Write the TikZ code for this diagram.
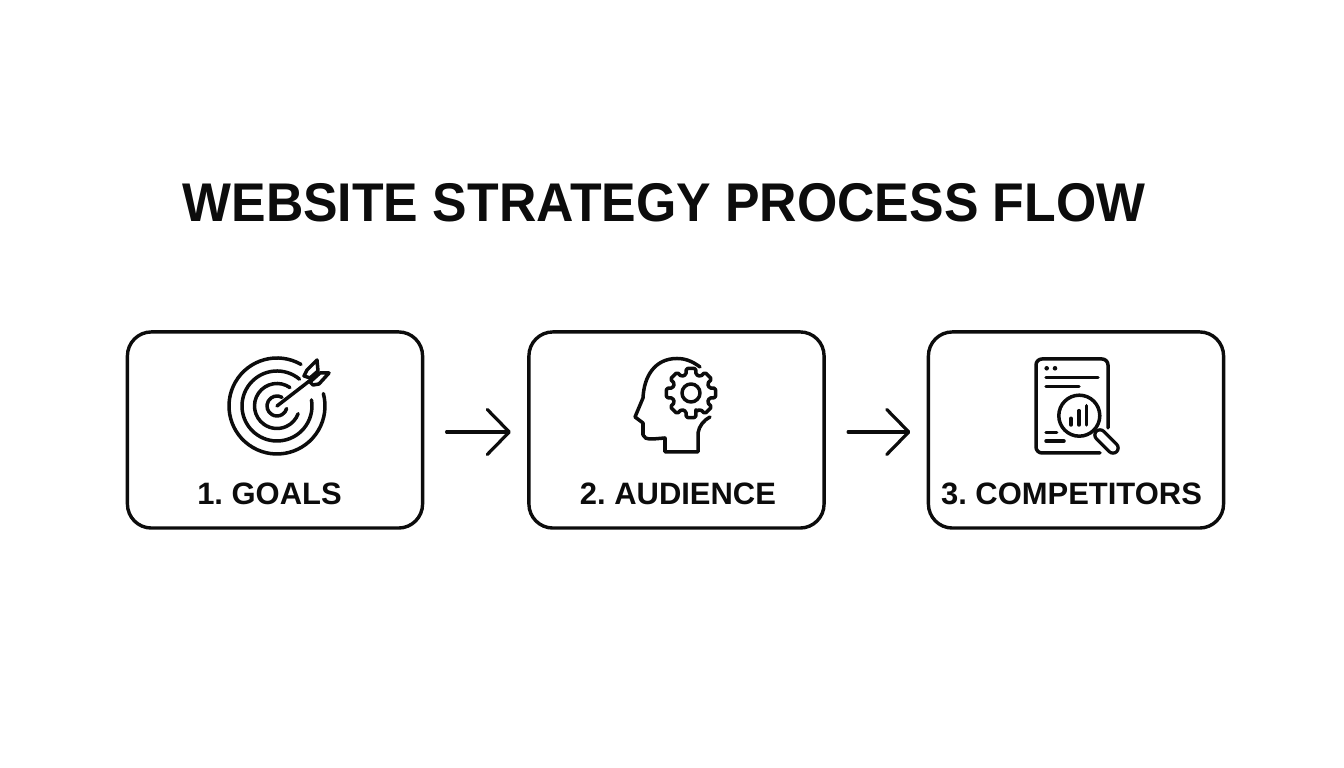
\documentclass[tikz,border=0pt]{standalone}
\usepackage{fontspec}
\setmainfont{Liberation Sans}
\newfontfamily\titlefont[FakeStretch=0.95]{Liberation Sans}
\usetikzlibrary{arrows.meta,calc}
\definecolor{inkblack}{HTML}{0C0C0C}
\tikzset{
  stepbox/.style={draw=inkblack, line width=0.034cm, rounded corners=0.24cm, minimum width=2.95cm, minimum height=1.96cm, inner sep=0pt, outer sep=0pt},
  steplabel/.style={text=inkblack, font=\fontsize{8.8}{11}\selectfont\bfseries, inner sep=0pt},
  flowarrow/.style={draw=inkblack, line width=0.032cm, line cap=round, shorten <=0.24cm, shorten >=0.18cm, -{Straight Barb[length=0.22cm, width=0.45cm, round]}},
  iconline/.style={draw=inkblack, line width=0.035cm, line cap=round, line join=round},
}
\frenchspacing
\begin{document}
\begin{tikzpicture}[x=0.01cm, y=-0.01cm]
	\useasboundingbox (0,0) rectangle (1344,768);
	\node[text=inkblack, font=\fontsize{15.5}{20}\titlefont\bfseries, inner sep=0pt] (title) at (664,203) {WEBSITE STRATEGY PROCESS FLOW};

	\node[stepbox] (goals) at (275,430) {};
	\node[stepbox] (audience) at (676.5,430) {};
	\node[stepbox] (competitors) at (1076,430) {};
	\node[steplabel] (goalstext) at (269.5,494) {1. GOALS};
	\node[steplabel] (audiencetext) at (678,494) {2. AUDIENCE};
	\node[steplabel] (competitorstext) at (1071.5,494) {3. COMPETITORS};

	\draw[flowarrow] ([yshift=-0.02cm]goals.east) -- ([yshift=-0.02cm]audience.west);
	\draw[flowarrow] ([yshift=-0.02cm]audience.east) -- ([yshift=-0.02cm]competitors.west);

	% target
	\foreach \r/\a/\b in {48/-60/-375, 35/-50/-370, 22.5/-55/-340, 10/-60/-345}
		\draw[iconline] ($(277,406)+(\a:\r)$) arc[start angle=\a, end angle=\b, radius=\r];
	\draw[iconline] (277,406) -- (312,379);
	\draw[iconline] (304,376) -- (307,370) -- (317,360) -- (318,371) -- (310,378) -- cycle;
	\draw[iconline] (310,382) -- (320,373) -- (329,373) -- (319,384) -- (313,385) -- cycle;

	% head with gear
	\draw[iconline] (700,367) .. controls (692,361) and (685,358.5) .. (677,358.5) .. controls (655,358.5) and (644,376) .. (643,398) -- (635,417) -- (643,423) -- (643,435) .. controls (644,438) and (646,439) .. (653,439) -- (665,438) -- (665,452) -- (698,452) -- (698,433) .. controls (699,426) and (704,420) .. (710,417);
	\draw[iconline, rounded corners=0.015cm] ($(691,393)+(75:19)$)
		\foreach \t in {90,135,...,405} { -- ($(691,393)+(\t-15:19)$) -- ($(691,393)+(\t-11:25)$) -- ($(691,393)+(\t+11:25)$) -- ($(691,393)+(\t+15:19)$) } -- cycle;
	\draw[iconline] (691,393) circle[radius=9];

	% report with magnifier
	\draw[iconline] (1108,428) -- (1108,365) arc[start angle=0, end angle=-90, radius=6] -- (1042,359) arc[start angle=-90, end angle=-180, radius=6] -- (1036,447) arc[start angle=180, end angle=90, radius=6] -- (1100,453);
	\fill[inkblack] (1046.7,368.3) circle[radius=2.3] (1055,368.3) circle[radius=2.3];
	\draw[iconline] (1046,377.3) -- (1098,377.3);
	\draw[iconline] (1046,386.7) -- (1079,386.7);
	\draw[iconline] (1046,432.3) -- (1056.7,432.3);
	\draw[iconline] (1046,441) -- (1064,441);
	\draw[iconline] (1079.3,415.7) circle[radius=20.5];
	\draw[iconline] (1071,425) -- (1071,418.3);
	\draw[iconline] (1079,425) -- (1079,410.7);
	\draw[iconline] (1086.7,425) -- (1086.7,405.7);
	\draw[iconline] (1094,430) -- (1099,435);
	\draw[iconline, line width=0.033cm, double=white, double distance=0.07cm] (1100,435) -- (1113,448);
\end{tikzpicture}
\end{document}
